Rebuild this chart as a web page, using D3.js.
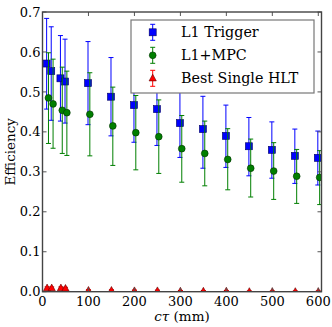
<!DOCTYPE html>
<html>
<head>
<meta charset="utf-8">
<script src="https://cdn.jsdelivr.net/npm/d3@7"></script>
<style>
  body { margin: 0; background: #fff; }
  text { font-family: "DejaVu Serif", serif; }
</style>
</head>
<body>
<div id="chart"></div>
<script>
// values
const ctau = [10, 20, 40, 50, 100, 150, 200, 250, 300, 350, 400, 450, 500, 550, 600];

const l1 = [0.571, 0.552, 0.534, 0.526, 0.522, 0.488, 0.467, 0.457, 0.422, 0.407, 0.390, 0.364, 0.355, 0.340, 0.335];
const l1Hi = [0.684, 0.663, 0.641, 0.632, 0.626, 0.586, 0.560, 0.548, 0.508, 0.489, 0.467, 0.436, 0.425, 0.407, 0.402];
const l1Lo = [0.457, 0.429, 0.427, 0.422, 0.418, 0.390, 0.374, 0.366, 0.336, 0.309, 0.311, 0.290, 0.284, 0.271, 0.267];

const mpc = [0.485, 0.470, 0.454, 0.448, 0.444, 0.415, 0.398, 0.388, 0.358, 0.346, 0.331, 0.309, 0.302, 0.289, 0.286];
const mpcHi = [0.598, 0.582, 0.562, 0.552, 0.548, 0.512, 0.491, 0.480, 0.441, 0.427, 0.408, 0.382, 0.373, 0.356, 0.353];
const mpcLo = [0.371, 0.359, 0.346, 0.341, 0.340, 0.316, 0.305, 0.296, 0.274, 0.265, 0.255, 0.237, 0.231, 0.221, 0.218];

const hlt = [0.009, 0.009, 0.009, 0.008, 0.003, 0.003, 0.002, 0.002, 0.001, 0.001, 0.001, 0.0, 0.0, 0.0, 0.0];
const hltHi = [0.012, 0.012, 0.012, 0.011, 0.005, 0.005, 0.004, 0.004, 0.003, 0.003, 0.003, 0.002, 0.002, 0.002, 0.002];
const hltLo = [0.006, 0.006, 0.006, 0.005, 0.001, 0.001, 0.000, 0.000, 0.000, 0.000, 0.000, 0.000, 0.000, 0.000, 0.000];

const xTicks = [0, 100, 200, 300, 400, 500, 600];
const yTicks = [0.0, 0.1, 0.2, 0.3, 0.4, 0.5, 0.6, 0.7];

const width = 332, height = 327;
const margin = { top: 12, right: 10.5, bottom: 35.3, left: 42.5 };

const x = d3.scaleLinear().domain([0, 607]).range([margin.left, width - margin.right]);
const y = d3.scaleLinear().domain([0, 0.7]).range([height - margin.bottom, margin.top]);

const series = [
  { name: "L1 Trigger", v: l1, hi: l1Hi, lo: l1Lo, color: "#0000ff", edge: "#000060", shape: "square", dx: -1 },
  { name: "L1+MPC", v: mpc, hi: mpcHi, lo: mpcLo, color: "#007f00", edge: "#003000", shape: "circle", dx: 3 },
  { name: "Best Single HLT", v: hlt, hi: hltHi, lo: hltLo, color: "#ff0000", edge: "#600000", shape: "triangle", dx: 0 }
];

const svg = d3.select("#chart").append("svg")
  .attr("width", width)
  .attr("height", height);

svg.append("defs").append("clipPath").attr("id", "plotclip")
  .append("rect")
  .attr("x", margin.left).attr("y", margin.top)
  .attr("width", width - margin.left - margin.right)
  .attr("height", height - margin.top - margin.bottom);

function marker(g, shape, color, edge) {
  if (shape === "square") {
    g.append("rect").attr("x", -3.5).attr("y", -3.5).attr("width", 7).attr("height", 7)
      .attr("fill", color).attr("stroke", edge).attr("stroke-width", 0.6);
  } else if (shape === "circle") {
    g.append("circle").attr("r", 3.4)
      .attr("fill", color).attr("stroke", edge).attr("stroke-width", 0.6);
  } else {
    g.append("path").attr("d", "M0,-4L3.6,2.6L-3.6,2.6Z")
      .attr("fill", color).attr("stroke", edge).attr("stroke-width", 0.6);
  }
}

const plot = svg.append("g").attr("clip-path", "url(#plotclip)");

series.forEach(s => {
  const g = plot.append("g");
  ctau.forEach((c, i) => {
    const px = x(c + s.dx);
    g.append("line")
      .attr("x1", px).attr("x2", px)
      .attr("y1", y(s.lo[i])).attr("y2", y(s.hi[i]))
      .attr("stroke", s.color).attr("stroke-width", 1);
    [s.lo[i], s.hi[i]].forEach(e => {
      g.append("line")
        .attr("x1", px - 2.5).attr("x2", px + 2.5)
        .attr("y1", y(e)).attr("y2", y(e))
        .attr("stroke", s.color).attr("stroke-width", 1);
    });
  });
  ctau.forEach((c, i) => {
    const m = g.append("g").attr("transform", `translate(${x(c + s.dx)},${y(s.v[i])})`);
    marker(m, s.shape, s.color, s.edge);
  });
});

// ticks, inward on all sides
const tickLen = 4;
const x0 = margin.left, x1 = width - margin.right;
const y0 = height - margin.bottom, y1 = margin.top;

const ticks = svg.append("g").attr("stroke", "#555").attr("stroke-width", 1);
xTicks.forEach(t => {
  ticks.append("line").attr("x1", x(t)).attr("x2", x(t)).attr("y1", y0).attr("y2", y0 - tickLen);
  ticks.append("line").attr("x1", x(t)).attr("x2", x(t)).attr("y1", y1).attr("y2", y1 + tickLen);
});
yTicks.forEach(t => {
  ticks.append("line").attr("x1", x0).attr("x2", x0 + tickLen).attr("y1", y(t)).attr("y2", y(t));
  ticks.append("line").attr("x1", x1).attr("x2", x1 - tickLen).attr("y1", y(t)).attr("y2", y(t));
});

svg.append("rect")
  .attr("x", x0).attr("y", y1)
  .attr("width", x1 - x0).attr("height", y0 - y1)
  .attr("fill", "none").attr("stroke", "#444").attr("stroke-width", 1.4);

svg.append("g").selectAll("text").data(xTicks).enter().append("text")
  .attr("x", d => x(d)).attr("y", y0 + 14)
  .attr("text-anchor", "middle")
  .style("font-size", "13px")
  .text(d => d);

svg.append("g").selectAll("text").data(yTicks).enter().append("text")
  .attr("x", x0 - 2).attr("y", d => y(d) + 4.6)
  .attr("text-anchor", "end")
  .style("font-size", "13px")
  .text(d => d3.format(".1f")(d));

// axis labels
svg.append("text")
  .attr("transform", `translate(14.5,${(y0 + y1) / 2}) rotate(-90)`)
  .attr("text-anchor", "middle")
  .style("font-size", "13.5px")
  .text("Efficiency");

const xl = svg.append("text")
  .attr("x", (x0 + x1) / 2).attr("y", y0 + 29)
  .attr("text-anchor", "middle")
  .style("font-size", "13.5px");
xl.append("tspan").style("font-style", "italic").text("cτ");
xl.append("tspan").text(" (mm)");

// legend
const legend = svg.append("g");
legend.append("rect")
  .attr("x", 131).attr("y", 20)
  .attr("width", 183).attr("height", 73)
  .attr("fill", "#fff").attr("stroke", "#777").attr("stroke-width", 1.2);

series.forEach((s, i) => {
  const cy = 32.3 + i * 23;
  const lg = legend.append("g").attr("transform", `translate(152.7,${cy})`);
  lg.append("line").attr("x1", 0).attr("x2", 0).attr("y1", -8).attr("y2", 8)
    .attr("stroke", s.color).attr("stroke-width", 1);
  [-8, 8].forEach(e => lg.append("line").attr("x1", -2.5).attr("x2", 2.5).attr("y1", e).attr("y2", e)
    .attr("stroke", s.color).attr("stroke-width", 1));
  marker(lg, s.shape, s.color, s.edge);
  legend.append("text")
    .attr("x", 181).attr("y", cy + 5)
    .style("font-size", "14.3px")
    .text(s.name);
});
</script>
</body>
</html>
